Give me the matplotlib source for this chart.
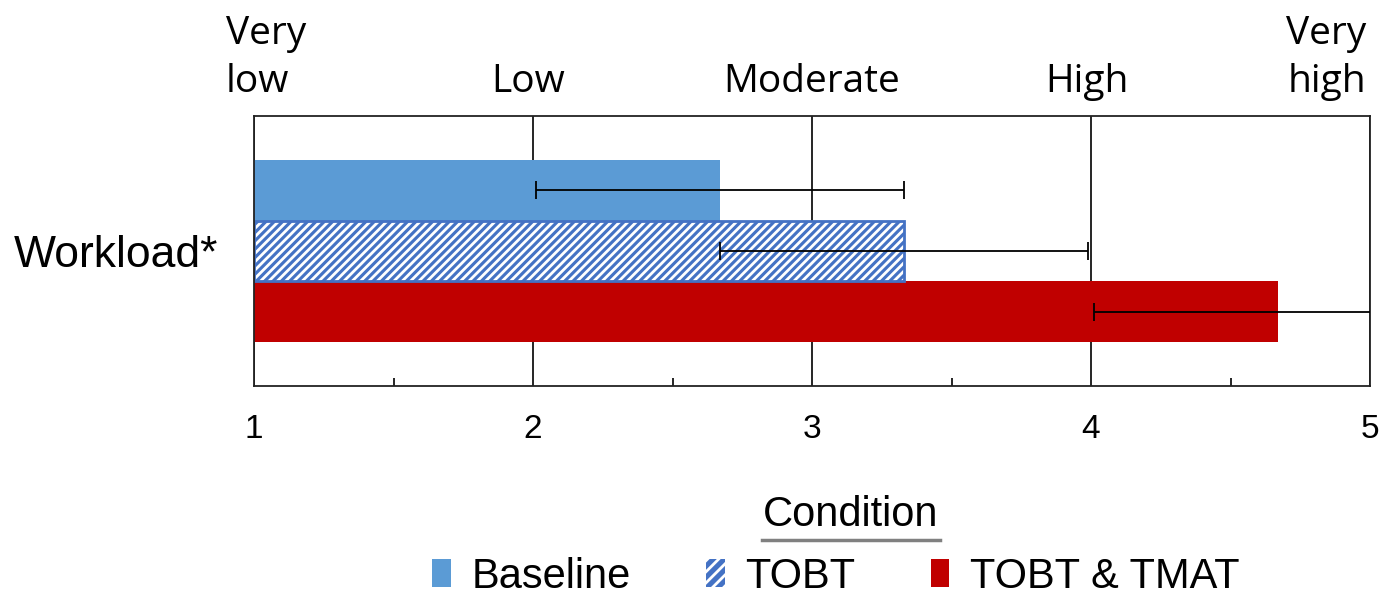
import matplotlib
matplotlib.use("Agg")
import matplotlib.pyplot as plt
import matplotlib.transforms as mtransforms
from matplotlib.patches import Patch
from matplotlib.lines import Line2D

plt.rcParams['font.family'] = ['Liberation Sans', 'DejaVu Sans']
plt.rcParams['hatch.linewidth'] = 2.0

category = "Workload*"
conditions = ["Baseline", "TOBT", "TOBT & TMAT"]
means = [2.67, 3.33, 4.67]
errors = [0.66, 0.66, 0.66]
scale_ticks = [1, 2, 3, 4, 5]
scale_labels = ["Very\nlow", "Low", "Moderate", "High", "Very\nhigh"]

fill_colors = ["#5B9BD5", "#4472C4", "#C00000"]
hatches = [None, "////", None]

fig = plt.figure(figsize=(13.86, 5.96), dpi=100)
ax = fig.add_axes([254/1386, 1-386/596, (1370-254)/1386, (386-116)/596])

bar_h = 0.225
offsets = [bar_h, 0.0, -bar_h]
xmin = 1
for i, (c, m, e) in enumerate(zip(conditions, means, errors)):
    y = offsets[i]
    if hatches[i]:
        ax.barh(y, m - xmin, left=xmin, height=bar_h, color=fill_colors[i],
                edgecolor="white", hatch=hatches[i], linewidth=0, zorder=2)
        ax.barh(y, m - xmin, left=xmin, height=bar_h, fill=False,
                edgecolor=fill_colors[i], linewidth=2, zorder=2.1)
    else:
        ax.barh(y, m - xmin, left=xmin, height=bar_h, color=fill_colors[i],
                linewidth=0, zorder=2)
    ax.errorbar(m, y, xerr=e, fmt="none", ecolor="black", elinewidth=1.3,
                capsize=6.5, capthick=1.3, zorder=3)

ax.set_xlim(1, 5)
ax.set_ylim(-0.5, 0.5)
ax.set_xticks(scale_ticks)
ax.set_xticks([1.5, 2.5, 3.5, 4.5], minor=True)
ax.tick_params(axis="x", which="major", length=0, labelsize=24, pad=20)
ax.tick_params(axis="x", which="minor", direction="in", length=6, width=1.2)
ax.set_yticks([0])
ax.set_yticklabels([category], fontsize=32)
ax.tick_params(axis="y", length=0, pad=26)
ax.grid(axis="x", which="major", color="black", linewidth=1.2, zorder=1)
ax.set_axisbelow(True)
for s in ax.spines.values():
    s.set_linewidth(1.3)
    s.set_color("#222222")

top = ax.secondary_xaxis("top")
top.set_xticks(scale_ticks)
top.set_xticklabels(scale_labels, fontsize=28, family=["Open Sans", "DejaVu Sans"],
                    linespacing=1.35)
top.tick_params(length=0, pad=11)
top.spines["top"].set_visible(False)
tlabels = top.get_xticklabels()
tlabels[0].set_horizontalalignment("left")
tlabels[0].set_multialignment("left")
tlabels[-1].set_horizontalalignment("right")
tlabels[-1].set_multialignment("right")
tlabels[0].set_transform(tlabels[0].get_transform() +
                         mtransforms.ScaledTranslation(-28/100, 0, fig.dpi_scale_trans))
tlabels[1].set_transform(tlabels[1].get_transform() +
                         mtransforms.ScaledTranslation(-5/100, 0, fig.dpi_scale_trans))
tlabels[3].set_transform(tlabels[3].get_transform() +
                         mtransforms.ScaledTranslation(-4/100, 0, fig.dpi_scale_trans))
tlabels[-1].set_transform(tlabels[-1].get_transform() +
                          mtransforms.ScaledTranslation(-4/100, 0, fig.dpi_scale_trans))

handles = [
    Patch(facecolor=fill_colors[0], edgecolor=fill_colors[0], linewidth=0),
    Patch(facecolor=fill_colors[1], edgecolor="white", hatch="///", linewidth=0),
    Patch(facecolor=fill_colors[2], edgecolor=fill_colors[2], linewidth=0),
]
fig.legend(handles, conditions, loc="center", bbox_to_anchor=(836/1386, 1-577/596),
           ncol=3, frameon=False, fontsize=30, handlelength=0.45, handleheight=0.65,
           handletextpad=0.5, columnspacing=1.8)
fig.text(851/1386, 1-515/596, "Condition", ha="center", va="center", fontsize=30)
fig.add_artist(Line2D([762/1386, 940/1386], [1-540/596, 1-540/596],
                      color="#808080", linewidth=2.5, transform=fig.transFigure))

fig.savefig("out.png", dpi=100)
